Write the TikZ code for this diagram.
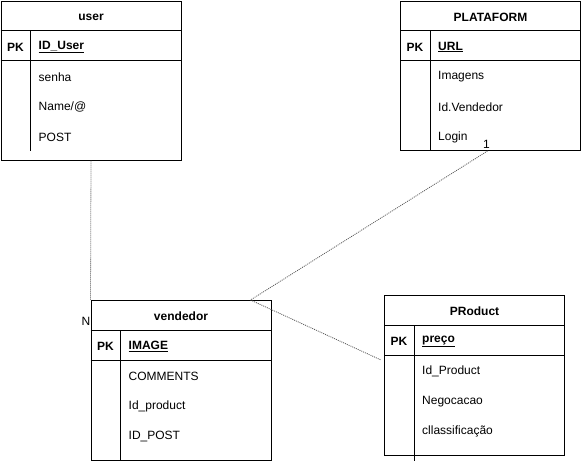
\documentclass[tikz,border=0pt]{standalone}
\usepackage{fontspec}
\setmainfont{Liberation Sans}
\usetikzlibrary{calc}

\tikzset{
  tablebox/.style={draw=black, line width=1pt, fill=white, anchor=north west, inner sep=0pt},
  rule/.style={draw=black, line width=1pt},
  cell/.style={anchor=west, inner sep=0pt, yshift=-1.5pt, font=\fontsize{12}{14}\selectfont},
  pkcell/.style={anchor=center, inner sep=0pt, yshift=-1.5pt, font=\fontsize{12}{14}\selectfont\bfseries},
  titlecell/.style={anchor=center, inner sep=0pt, yshift=-1.5pt, font=\fontsize{12}{14}\selectfont\bfseries},
  relation/.style={draw=black!65, line width=0.8pt, dash pattern=on 1pt off 1pt},
  cardinality/.style={inner sep=0pt, font=\fontsize{12}{14}\selectfont}
}

% \ertable{name}{x}{y}{height}{divider end}{title}{key}{row1}{row2} then \rowthree{name}{row3}
\newcommand{\ertable}[9]{%
  \node[tablebox, minimum width=180pt, minimum height=#4pt] (#1) at (#2,#3) {};
  \draw[rule] ($(#1.north west)+(0,30)$) -- ($(#1.north east)+(0,30)$);
  \draw[rule] ($(#1.north west)+(0,60)$) -- ($(#1.north east)+(0,60)$);
  \draw[rule] ($(#1.north west)+(30,30)$) -- ($(#1.north west)+(30,#5)$);
  \node[titlecell] (#1-title) at ($(#1.north)+(0,15)$) {#6};
  \node[pkcell] (#1-pk) at ($(#1.north west)+(15,45)$) {PK};
  \node[cell] (#1-key) at ($(#1.north west)+(38,45)$) {\textbf{\underline{#7}}};
  \node[cell] (#1-r1) at ($(#1.north west)+(38,75)$) {#8};
  \node[cell] (#1-r2) at ($(#1.north west)+(38,105)$) {#9};
  \rowthree{#1}}
\newcommand{\rowthree}[2]{%
  \node[cell] (#1-r3) at ($(#1.north west)+(38,135)$) {#2};}

\begin{document}
\begin{tikzpicture}[x=1pt, y=-1pt]
  \useasboundingbox (0,0) rectangle (582,461);

  \ertable{user}{0.5}{0.5}{159}{150}{user}{ID\_User}{senha}{Name/@}{POST}
  \ertable{plat}{400}{0.5}{149.5}{150}{PLATAFORM}{URL}{Imagens}{Id.Vendedor}{Login}
  \ertable{vend}{90.5}{300}{160}{450}{vendedor}{IMAGE}{COMMENTS}{Id\_product}{ID\_POST}
  \ertable{prod}{384}{295}{160}{445}{PRoduct}{preço}{Id\_Product}{Negocacao}{cllassificação}

  % relationship end points
  \coordinate (platfoot) at ($(plat.south)+(-3,0)$);
  \coordinate (vendtop) at ($(vend.north west)+(160,0)$);
  \coordinate (prodside) at ($(prod.north west)+(-3,65)$);

  % relationships
  \draw[relation] (user.south) -- (vend.north west);
  \draw[relation] (platfoot) -- (vendtop);
  \draw[relation] (vendtop) -- (prodside);

  % cardinalities
  \node[cardinality, anchor=east] (cardN) at ($(vend.north west)+(0,21)$) {N};
  \node[cardinality] (card1) at ($(plat.south)+(-4,-7)$) {1};
\end{tikzpicture}
\end{document}
